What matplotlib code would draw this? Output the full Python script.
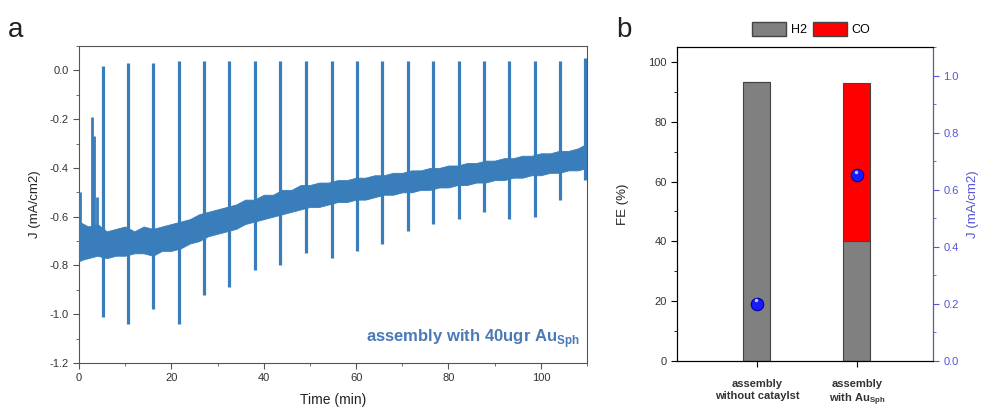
import numpy as np
import matplotlib
matplotlib.use('Agg')
import matplotlib.pyplot as plt
from matplotlib.patches import Patch
from matplotlib.ticker import MultipleLocator

plt.rcParams['font.family'] = ['Liberation Sans', 'DejaVu Sans']
plt.rcParams['mathtext.fontset'] = 'custom'
plt.rcParams['mathtext.rm'] = 'Liberation Sans'
plt.rcParams['mathtext.bf'] = 'Liberation Sans:bold'
plt.rcParams['axes.unicode_minus'] = False

# ---- panel a: chronoamperometry trace ----
time_env = [0, 2, 4, 6, 8, 10, 12, 14, 16, 18, 20, 22, 24, 26, 28, 30, 32, 34, 36, 38,
            40, 42, 44, 46, 48, 50, 52, 54, 56, 58, 60, 62, 64, 66, 68, 70, 72, 74, 76, 78,
            80, 82, 84, 86, 88, 90, 92, 94, 96, 98, 100, 102, 104, 106, 108, 110]
j_upper = [-0.62, -0.64, -0.63, -0.66, -0.65, -0.64, -0.66, -0.64, -0.65, -0.64,
           -0.63, -0.62, -0.61, -0.59, -0.58, -0.57, -0.56, -0.55, -0.53, -0.53,
           -0.51, -0.51, -0.49, -0.49, -0.47, -0.47, -0.46, -0.46, -0.45, -0.45,
           -0.44, -0.44, -0.43, -0.43, -0.42, -0.42, -0.41, -0.41, -0.40, -0.40,
           -0.39, -0.39, -0.38, -0.38, -0.37, -0.37, -0.36, -0.36, -0.35, -0.35,
           -0.34, -0.34, -0.33, -0.33, -0.32, -0.30]
j_lower = [-0.78, -0.77, -0.76, -0.77, -0.76, -0.76, -0.75, -0.75, -0.76, -0.74,
           -0.74, -0.73, -0.71, -0.70, -0.68, -0.67, -0.66, -0.65, -0.63, -0.62,
           -0.61, -0.60, -0.59, -0.58, -0.57, -0.56, -0.56, -0.55, -0.54, -0.54,
           -0.53, -0.53, -0.52, -0.51, -0.51, -0.50, -0.50, -0.49, -0.49, -0.48,
           -0.48, -0.47, -0.47, -0.46, -0.46, -0.45, -0.45, -0.44, -0.44, -0.43,
           -0.43, -0.42, -0.42, -0.41, -0.41, -0.40]

spike_t = [5.2, 10.6, 16.0, 21.6, 27.1, 32.5, 38.1, 43.5, 49.1, 54.8,
           60.2, 65.6, 71.2, 76.6, 82.3, 87.7, 93.1, 98.7, 104.1, 109.5]
spike_top = [0.02, 0.03, 0.03, 0.04, 0.04, 0.04, 0.04, 0.04, 0.04, 0.04,
             0.04, 0.04, 0.04, 0.04, 0.04, 0.04, 0.04, 0.04, 0.04, 0.05]
spike_bottom = [-1.01, -1.04, -0.98, -1.04, -0.92, -0.89, -0.82, -0.80, -0.75, -0.77,
                -0.74, -0.71, -0.66, -0.63, -0.61, -0.58, -0.61, -0.60, -0.53, -0.45]

early_t = [0.2, 2.9, 3.3, 4.0]
early_top = [-0.50, -0.19, -0.27, -0.52]
early_bottom = [-0.78, -0.70, -0.70, -0.72]

# ---- panel b: faradaic efficiency ----
categories = ['assembly\nwithout cataylst', 'assembly\nwith Au$_{\\mathbf{Sph}}$']
fe_h2 = [93.3, 40.0]
fe_co = [0.0, 53.1]
j_abs = [0.20, 0.65]

trace_col = '#3a7dbb'
axis_col = '#555555'
blue_ax = '#5555d5'

fig = plt.figure(figsize=(9.82, 4.07), dpi=100)

ax = fig.add_axes([0.0804, 0.108, 0.5174, 0.779])
ax.fill_between(time_env, j_lower, j_upper, color=trace_col, lw=0.6, zorder=2)
ax.vlines(spike_t, spike_bottom, spike_top, color=trace_col, lw=2.3, zorder=3)
ax.vlines(early_t, early_bottom, early_top, color=trace_col, lw=2.0, zorder=3)
ax.set_xlim(0, 110)
ax.set_ylim(-1.2, 0.1)
ax.xaxis.set_major_locator(MultipleLocator(20))
ax.xaxis.set_minor_locator(MultipleLocator(10))
ax.yaxis.set_major_locator(MultipleLocator(0.2))
ax.yaxis.set_minor_locator(MultipleLocator(0.1))
ax.tick_params(which='both', direction='out', color=axis_col, labelsize=8, labelcolor='#333333')
ax.tick_params(which='major', length=4)
ax.tick_params(which='minor', length=2.5)
for s in ax.spines.values():
    s.set_color(axis_col)
ax.set_ylabel('J (mA/cm2)', fontsize=9.5, color='#222222', labelpad=6)
ax.set_xlabel('Time (min)', fontsize=10, color='#222222', labelpad=7)
ax.text(0.985, 0.04, 'assembly with 40ugr Au$_{\\mathbf{Sph}}$', transform=ax.transAxes,
        ha='right', va='bottom', fontsize=12, fontweight='bold', color='#4a7ab5')

bx = fig.add_axes([0.6894, 0.113, 0.2607, 0.7715])
x = np.arange(len(categories))
bx.bar(x, fe_h2, width=0.27, color='#808080', edgecolor='#444444', lw=0.8, zorder=2)
bx.bar(x, fe_co, width=0.27, bottom=fe_h2, color='#ff0000', edgecolor='#444444', lw=0.8, zorder=2)
bx.set_xlim(-0.8, 1.76)
bx.set_ylim(0, 105)
bx.set_xticks(x)
bx.set_xticklabels(categories, fontsize=8.5, fontweight='bold', color='#222222')
bx.tick_params(axis='x', pad=9)
bx.yaxis.set_major_locator(MultipleLocator(20))
bx.yaxis.set_minor_locator(MultipleLocator(10))
bx.tick_params(which='both', direction='out', labelsize=8, labelcolor='#333333')
bx.tick_params(which='major', length=4)
bx.tick_params(which='minor', length=2.5)
bx.set_ylabel('FE (%)', fontsize=9.5, color='#222222', labelpad=14)

tx = bx.twinx()
tx.plot(x, j_abs, 'o', ms=9, color='#1a1aff', mec='#0000a0', mew=0.8, zorder=4)
tx.plot(x - 0.012, [v + 0.012 for v in j_abs], 'o', ms=2.5, color='#b0c8ff', mew=0, zorder=5)
tx.set_ylim(0, 1.1)
tx.yaxis.set_major_locator(MultipleLocator(0.2))
tx.yaxis.set_minor_locator(MultipleLocator(0.1))
tx.tick_params(which='both', direction='out', color=blue_ax, labelsize=8, labelcolor=blue_ax)
tx.tick_params(which='major', length=4)
tx.tick_params(which='minor', length=2.5)
tx.spines['right'].set_color(blue_ax)
tx.set_ylabel('J (mA/cm2)', fontsize=9.5, color=blue_ax, labelpad=6)

handles = [Patch(facecolor='#808080', edgecolor='#444444', label='H2'),
           Patch(facecolor='#ff0000', edgecolor='#444444', label='CO')]
fig.legend(handles=handles, loc='center', bbox_to_anchor=(0.826, 0.928), ncol=2,
           frameon=False, fontsize=9, handlelength=2.7, handleheight=1.3,
           columnspacing=0.5, handletextpad=0.4)

fig.text(0.008, 0.91, 'a', fontsize=20, color='#222222')
fig.text(0.628, 0.91, 'b', fontsize=20, color='#222222')

fig.savefig('out.png', dpi=100)
